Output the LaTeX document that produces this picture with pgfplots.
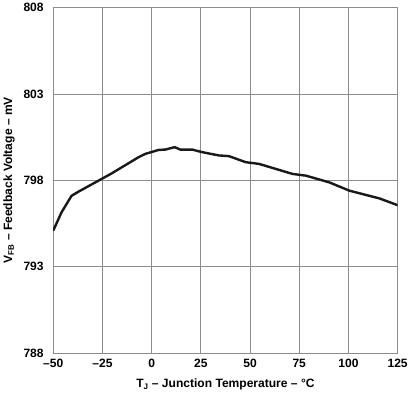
\documentclass[border=0pt]{standalone}
\usepackage{pgfplots}
\pgfplotsset{compat=1.18}
\usepackage{fontspec}
\setmainfont{Liberation Sans}
\begin{document}
\begin{tikzpicture}
\begin{axis}[
  scale only axis,
  width=343pt, height=344pt,
  xmin=-50, xmax=125, ymin=788, ymax=808,
  xtick={-50,-25,0,25,50,75,100,125},
  ytick={788,793,798,803,808},
  xticklabels={\textbf{\textendash50},\textbf{\textendash25},\textbf{0},\textbf{25},\textbf{50},\textbf{75},\textbf{100},\textbf{125}},
  yticklabels={\textbf{788},\textbf{793},\textbf{798},\textbf{803},\textbf{808}},
  tick label style={font=\fontsize{12}{14}\selectfont},
  grid=major,
  major grid style={draw=gray!90, line width=0.9pt},
  axis line style={draw=gray!90, line width=0.9pt},
  major tick length=0pt,
  xlabel={\textbf{T\textsubscript{J} \textendash\ Junction Temperature \textendash\ \textdegree C}},
  ylabel={\textbf{V\textsubscript{FB} \textendash\ Feedback Voltage \textendash\ mV}},
  label style={font=\fontsize{12}{14}\selectfont},
  xlabel style={yshift=-4pt},
  ylabel style={yshift=2pt},
  xticklabel style={yshift=-3pt},
  yticklabel style={xshift=-6pt},
]
\addplot[black!90, line width=2.4pt, line join=round] coordinates {
(-50,795.08) (-45.8,796.14) (-40.7,797.1) (-37.2,797.34) (-25.4,798.08) (-20.3,798.4)
(-6.6,799.34) (-3.2,799.53) (3.6,799.76) (7,799.78) (11.7,799.92) (14.6,799.78)
(20.6,799.78) (25.7,799.63) (34.2,799.44) (39.3,799.4) (47.8,799.05) (54.6,798.95)
(71.6,798.37) (78.4,798.27) (90.3,797.88) (100.5,797.4) (107.3,797.2) (115.8,796.95)
(125,796.56)
};
\end{axis}
\end{tikzpicture}
\end{document}
